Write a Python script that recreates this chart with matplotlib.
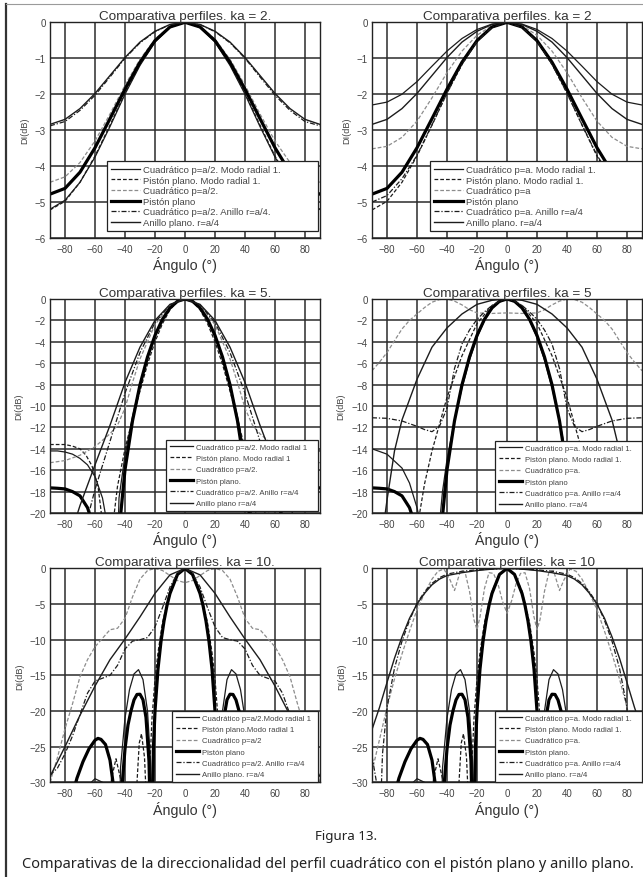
#!/usr/bin/env python3
"""
Directivity comparison: quadratic profile vs flat piston and flat ring.

Six panels (ka = 2, 5, 10; quadratic radius p=a/2 on the left, p=a on the
right). Each curve is stored as one half of the pattern (0..90 deg) and
mirrored, since all the patterns are symmetric about the axis.
"""

import numpy as np
import matplotlib
matplotlib.use("Agg")
import matplotlib.pyplot as plt
from matplotlib.lines import Line2D

# ---------------------------------------------------------------- ka = 2
KA2_ANG = [0, 10, 20, 30, 40, 50, 60, 70, 80, 90]

KA2_PISTON = [0, -0.13, -0.51, -1.11, -1.86, -2.68, -3.49, -4.17, -4.62, -4.78]
KA2_PISTON_MODO = [0, -0.13, -0.53, -1.17, -1.97, -2.86, -3.72, -4.45, -4.98, -5.22]
KA2_ANILLO = [0, -0.06, -0.25, -0.55, -0.98, -1.48, -1.98, -2.40, -2.70, -2.84]

# p = a/2
P1_CUAD_MODO = [0, -0.14, -0.55, -1.20, -2.00, -2.90, -3.75, -4.45, -4.95, -5.20]
P1_CUAD = [0, -0.12, -0.47, -1.03, -1.75, -2.55, -3.30, -3.90, -4.30, -4.45]
P1_CUAD_ANILLO = [0, -0.065, -0.26, -0.57, -1.00, -1.52, -2.03, -2.45, -2.76, -2.88]

# p = a
P2_CUAD_MODO = [0, -0.05, -0.20, -0.45, -0.80, -1.22, -1.65, -2.00, -2.22, -2.30]
P2_CUAD = [0, -0.09, -0.36, -0.80, -1.40, -2.10, -2.75, -3.20, -3.45, -3.52]
P2_CUAD_ANILLO = [0, -0.14, -0.53, -1.17, -1.97, -2.85, -3.70, -4.35, -4.82, -5.00]

# ---------------------------------------------------------------- ka = 5
KA5_PISTON_ANG = [0, 5, 10, 15, 20, 25, 30, 35, 40, 45, 48, 50, 52, 55, 60, 65, 70, 75, 80, 85, 90]
KA5_PISTON = [0, -0.21, -0.83, -1.89, -3.40, -5.42, -8.01, -11.39, -15.96, -23.2, -32.0,
              -50.0, -33.6, -26.0, -21.6, -19.5, -18.4, -18.0, -17.75, -17.69, -17.65]

P3_CUAD_MODO_ANG = [0, 5, 10, 15, 20, 25, 30, 35, 40, 44, 47, 50, 55, 60, 65, 70, 75, 80, 85, 90]
P3_CUAD_MODO = [0, -0.22, -0.85, -1.95, -3.5, -5.5, -8.0, -11.0, -14.6, -18.6, -35.0,
                -22.5, -18.6, -16.6, -15.5, -14.9, -14.5, -14.3, -14.2, -14.2]
P3_PISTON_MODO_ANG = [0, 5, 10, 15, 20, 25, 30, 35, 40, 45, 48, 51, 54, 58, 62, 66, 70, 75, 80, 85, 90]
P3_PISTON_MODO = [0, -0.25, -1.0, -2.3, -4.0, -6.1, -8.6, -11.2, -14.0, -17.5, -21.0,
                  -40.0, -22.0, -17.5, -15.6, -14.6, -14.0, -13.75, -13.6, -13.6, -13.6]
P3_CUAD_ANG = [0, 10, 20, 30, 35, 40, 45, 50, 55, 60, 70, 80, 90]
P3_CUAD = [0, -0.6, -2.4, -5.6, -7.8, -10.2, -11.8, -12.6, -13.2, -13.8, -14.6, -15.1, -15.3]
P3_CUAD_ANILLO_ANG = [0, 10, 20, 30, 40, 50, 60, 65, 70, 80, 90]
P3_CUAD_ANILLO = [0, -0.55, -2.2, -5.0, -8.8, -13.3, -17.8, -20.5, -23.0, -28.0, -30.0]
P3_ANILLO_ANG = [0, 10, 20, 30, 40, 50, 60, 70, 75, 80, 90]
P3_ANILLO = [0, -0.5, -2.0, -4.5, -7.8, -11.8, -15.5, -19.3, -21.5, -24.0, -28.0]

P4_CUAD_MODO_ANG = [0, 5, 10, 15, 20, 25, 30, 35, 40, 43, 46, 49, 52, 56, 60, 65, 70, 80, 90]
P4_CUAD_MODO = [0, -0.22, -0.88, -2.0, -3.6, -5.7, -8.3, -11.4, -15.0, -18.0, -22.5,
                -40.0, -27.0, -22.0, -19.5, -17.2, -15.8, -14.5, -14.0]
P4_PISTON_MODO_ANG = [0, 10, 20, 30, 40, 50, 55, 60, 63, 66, 70, 80, 90]
P4_PISTON_MODO = [0, -0.6, -2.3, -5.3, -9.2, -14.2, -17.3, -21.5, -35.0, -26.0, -23.0, -21.5, -21.2]
P4_CUAD_ANG = [0, 10, 20, 25, 30, 35, 40, 45, 50, 55, 60, 65, 70, 75, 80, 85, 90]
P4_CUAD = [-1.3, -1.35, -1.3, -1.0, -0.55, -0.2, 0, -0.05, -0.3, -0.8, -1.4, -2.0, -2.8,
           -3.9, -5.0, -5.9, -6.7]
P4_CUAD_ANILLO_ANG = [0, 5, 10, 15, 20, 25, 30, 35, 40, 45, 50, 55, 60, 70, 80, 90]
P4_CUAD_ANILLO = [0, -0.2, -0.6, -1.2, -1.9, -2.9, -4.2, -6.5, -10.2, -11.9, -12.4, -12.2,
                  -11.9, -11.4, -11.15, -11.1]
P4_ANILLO_ANG = [0, 10, 20, 30, 40, 50, 60, 70, 75, 80, 85, 90]
P4_ANILLO = [0, -0.12, -0.5, -1.4, -2.7, -4.5, -7.5, -11.3, -14.2, -18.8, -24.0, -30.0]

# --------------------------------------------------------------- ka = 10
KA10_PISTON_ANG = [0, 5, 10, 12, 14, 16, 18, 20, 21, 22, 22.5, 23, 24, 26, 28, 30, 32, 34, 36,
                   38, 40, 42, 44, 44.6, 46, 48, 50, 53, 56, 58, 60, 64, 68, 72, 76, 80, 90]
KA10_PISTON = [0, -0.84, -3.51, -5.19, -7.39, -10.24, -14.1, -20.0, -24.9, -34.3, -60.0,
               -36.1, -27.05, -20.9, -18.43, -17.65, -17.68, -18.45, -19.97, -21.96, -25.32,
               -30.6, -44.5, -60.0, -36.6, -30.0, -26.9, -24.7, -23.98, -23.84, -24.1, -25.3,
               -27.1, -29.4, -32.5, -36.0, -41.2]
KA10_MODO_ANG = [0, 5, 10, 12, 15, 18, 20, 21.5, 23, 25, 28, 31, 34, 37, 40, 43, 44.5, 46,
                 50, 55, 60, 65, 70, 80, 90]
KA10_MODO = [0, -0.9, -3.6, -5.3, -8.6, -13.5, -18.5, -40.0, -27.0, -20.0, -15.6, -14.2,
             -14.8, -17.0, -21.0, -28.0, -45.0, -36.0, -31.5, -30.0, -29.5, -30.5, -33.0,
             -38.0, -40.0]
KA10_PISTON_MODO_ANG = [0, 5, 10, 15, 18, 20, 22, 23.5, 25, 27, 29, 30.5, 32, 34, 38, 41, 43,
                        46, 49, 51, 55, 60, 70, 80, 90]
KA10_PISTON_MODO = [0, -0.8, -3.2, -7.6, -11.8, -15.5, -21.0, -28.0, -36.0, -26.5, -23.2,
                    -24.5, -30.0, -40.0, -40.0, -36.0, -29.5, -26.7, -29.5, -36.0, -33.0,
                    -34.0, -38.0, -40.0, -42.0]

P5_CUAD_ANG = [0, 5, 10, 15, 20, 25, 30, 35, 40, 45, 50, 55, 60, 65, 70, 75, 80, 85, 90]
P5_CUAD = [-2.0, -1.7, -1.0, -0.3, 0, -0.3, -1.5, -4.0, -7.0, -8.4, -8.6, -9.8, -11.0,
           -12.8, -15.2, -19.0, -22.5, -26.5, -30.0]
P5_CUAD_ANILLO = [0, -0.7, -2.6, -5.5, -8.2, -9.7, -10.0, -10.2, -11.3, -13.6, -15.0, -15.4,
                  -15.8, -17.5, -20.5, -23.5, -26.0, -28.0, -29.0]
P5_ANILLO_ANG = [0, 10, 20, 30, 40, 50, 60, 70, 80, 90]
P5_ANILLO = [0, -0.9, -3.5, -6.8, -9.9, -12.8, -16.5, -20.6, -25.0, -29.2]

P6_CUAD_ANG = [0, 3, 6, 9, 12, 15, 18, 20, 22, 25, 28, 31, 35, 38, 42, 46, 50, 55, 60, 65,
               70, 75, 80, 85, 90]
P6_CUAD = [-6.3, -4.6, -2.2, -0.7, -0.6, -2.8, -6.8, -8.6, -7.2, -3.2, -0.5, -0.3, -3.1,
           -1.6, -0.1, -0.4, -1.5, -3.5, -5.8, -8.8, -12.0, -15.5, -19.5, -24.0, -28.5]
P6_CUAD_ANILLO_ANG = [0, 10, 20, 30, 40, 45, 50, 55, 60, 65, 70, 75, 80, 83, 85, 87, 90]
P6_CUAD_ANILLO = [0, -0.1, -0.2, -0.4, -0.8, -1.3, -2.1, -3.3, -4.9, -7.3, -10.2, -14.0,
                  -19.5, -26.0, -38.0, -30.0, -26.3]
P6_ANILLO_ANG = [0, 10, 20, 30, 40, 45, 50, 55, 60, 65, 70, 75, 80, 85, 90]
P6_ANILLO = [0, -0.1, -0.3, -0.6, -1.0, -1.5, -2.3, -3.5, -5.0, -7.0, -9.6, -12.6, -16.0,
             -19.5, -22.6]

# ---------------------------------------------------------------- labels
TITLES = ["Comparativa perfiles. ka = 2.", "Comparativa perfiles. ka = 2",
          "Comparativa perfiles. ka = 5.", "Comparativa perfiles. ka = 5",
          "Comparativa perfiles. ka = 10.", "Comparativa perfiles. ka = 10"]

LEGENDS = [
    ["Cuadrático p=a/2. Modo radial 1.", "Pistón plano. Modo radial 1.", "Cuadrático p=a/2.",
     "Pistón plano", "Cuadrático p=a/2. Anillo r=a/4.", "Anillo plano. r=a/4"],
    ["Cuadrático p=a. Modo radial 1.", "Pistón plano. Modo radial 1.", "Cuadrático p=a",
     "Pistón plano", "Cuadrático p=a. Anillo r=a/4", "Anillo plano. r=a/4"],
    ["Cuadrático p=a/2. Modo radial 1", "Pistón plano. Modo radial 1", "Cuadrático p=a/2.",
     "Pistón plano.", "Cuadrático p=a/2. Anillo r=a/4", "Anillo plano r=a/4"],
    ["Cuadrático p=a. Modo radial 1.", "Pistón plano. Modo radial 1.", "Cuadrático p=a.",
     "Pistón plano", "Cuadrático p=a. Anillo r=a/4", "Anillo plano. r=a/4"],
    ["Cuadrático p=a/2.Modo radial 1", "Pistón plano.Modo radial 1", "Cuadrático p=a/2",
     "Pistón plano", "Cuadrático p=a/2. Anillo r=a/4", "Anillo plano. r=a/4"],
    ["Cuadrático p=a. Modo radial 1.", "Pistón plano. Modo radial 1.", "Cuadrático p=a.",
     "Pistón plano.", "Cuadrático p=a. Anillo r=a/4", "Anillo plano. r=a/4"],
]

Y_LIMITS = [-6, -6, -20, -20, -30, -30]
Y_STEPS = [1, 1, 2, 2, 5, 5]

CAPTION_1 = "Figura 13."
CAPTION_2 = ("Comparativas de la direccionalidad del perfil cuadrático "
             "con el pistón plano y anillo plano.")

# line styles in legend order
INK = "#1c1c1c"
STYLES = [
    dict(color=INK, lw=0.9, ls="-"),
    dict(color=INK, lw=0.9, ls=(0, (3.0, 1.6))),
    dict(color="#8c8c8c", lw=0.9, ls=(0, (3.0, 1.6))),
    dict(color="#000000", lw=2.3, ls="-"),
    dict(color=INK, lw=0.9, ls=(0, (4.0, 1.5, 1.0, 1.5))),
    dict(color=INK, lw=1.0, ls="-"),
]

# legend boxes in axes fractions (x0, y0, width, height)
LEGEND_BOXES = [
    (0.211, 0.032, 0.782, 0.348), (0.215, 0.032, 0.785, 0.348),
    (0.430, 0.010, 0.563, 0.340), (0.456, 0.005, 0.544, 0.330),
    (0.452, 0.002, 0.541, 0.345), (0.456, 0.002, 0.544, 0.350),
]


def mirror(ang, val):
    """Build the full -90..90 pattern from its 0..90 half."""
    a = np.asarray(ang, dtype=float)
    v = np.asarray(val, dtype=float)
    return np.concatenate([-a[:0:-1], a]), np.concatenate([v[:0:-1], v])


def panel_curves():
    """Curves of each panel as (angles, dB) pairs, in legend order."""
    return [
        [(KA2_ANG, P1_CUAD_MODO), (KA2_ANG, KA2_PISTON_MODO), (KA2_ANG, P1_CUAD),
         (KA2_ANG, KA2_PISTON), (KA2_ANG, P1_CUAD_ANILLO), (KA2_ANG, KA2_ANILLO)],
        [(KA2_ANG, P2_CUAD_MODO), (KA2_ANG, KA2_PISTON_MODO), (KA2_ANG, P2_CUAD),
         (KA2_ANG, KA2_PISTON), (KA2_ANG, P2_CUAD_ANILLO), (KA2_ANG, KA2_ANILLO)],
        [(P3_CUAD_MODO_ANG, P3_CUAD_MODO), (P3_PISTON_MODO_ANG, P3_PISTON_MODO),
         (P3_CUAD_ANG, P3_CUAD), (KA5_PISTON_ANG, KA5_PISTON),
         (P3_CUAD_ANILLO_ANG, P3_CUAD_ANILLO), (P3_ANILLO_ANG, P3_ANILLO)],
        [(P4_CUAD_MODO_ANG, P4_CUAD_MODO), (P4_PISTON_MODO_ANG, P4_PISTON_MODO),
         (P4_CUAD_ANG, P4_CUAD), (KA5_PISTON_ANG, KA5_PISTON),
         (P4_CUAD_ANILLO_ANG, P4_CUAD_ANILLO), (P4_ANILLO_ANG, P4_ANILLO)],
        [(KA10_MODO_ANG, KA10_MODO), (KA10_PISTON_MODO_ANG, KA10_PISTON_MODO),
         (P5_CUAD_ANG, P5_CUAD), (KA10_PISTON_ANG, KA10_PISTON),
         (P5_CUAD_ANG, P5_CUAD_ANILLO), (P5_ANILLO_ANG, P5_ANILLO)],
        [(KA10_MODO_ANG, KA10_MODO), (KA10_PISTON_MODO_ANG, KA10_PISTON_MODO),
         (P6_CUAD_ANG, P6_CUAD), (KA10_PISTON_ANG, KA10_PISTON),
         (P6_CUAD_ANILLO_ANG, P6_CUAD_ANILLO), (P6_ANILLO_ANG, P6_ANILLO)],
    ]


def draw_panel(ax, idx, curves):
    ymin = Y_LIMITS[idx]
    for (ang, val), style, label in zip(curves, STYLES, LEGENDS[idx]):
        x, y = mirror(ang, val)
        ax.plot(x, y, label=label, solid_joinstyle="round", **style)

    ax.set_xlim(-90, 90)
    ax.set_ylim(ymin, 0)
    ax.set_xticks(range(-80, 81, 20))
    ax.set_yticks(np.arange(0, ymin - 0.1, -Y_STEPS[idx]))
    ax.grid(True, color="#2b2b2b", lw=1.1)
    ax.set_axisbelow(True)
    for sp in ax.spines.values():
        sp.set_color("#222222")
        sp.set_linewidth(1.0)
    ax.tick_params(length=0, labelsize=7.0, labelcolor="#444444", pad=4)
    ax.tick_params(axis="y", pad=3)

    ax.set_title(TITLES[idx], fontsize=9.7, color="#333333", pad=2.0)
    ax.set_xlabel("Ángulo (°)", fontsize=10.3, color="#333333", labelpad=2)
    ax.set_ylabel("DI(dB)", fontsize=6.6, color="#444444", labelpad=4)

    # legend box sits in the lower right corner of every panel
    if idx < 2:
        fsize, spacing = 6.8, 0.16
    else:
        fsize, spacing = 5.6, 0.50
    leg = ax.legend(loc="lower left", bbox_to_anchor=LEGEND_BOXES[idx], mode="expand",
                    fontsize=fsize, labelspacing=spacing, handlelength=3.0,
                    handletextpad=0.4, borderpad=0.45, borderaxespad=0,
                    fancybox=False, framealpha=1, edgecolor="#222222")
    leg.get_frame().set_linewidth(0.9)
    for t in leg.get_texts():
        t.set_color("#444444")


def main():
    plt.rcParams["font.family"] = ["Liberation Sans", "DejaVu Sans"]
    W, H = 643, 878
    fig = plt.figure(figsize=(W / 100, H / 100), dpi=100)

    lefts = [50, 372]
    rows = [(23.3, 239.0), (300.0, 514.0), (569.4, 783.3)]
    curves = panel_curves()
    for r, (top, bot) in enumerate(rows):
        for c, left in enumerate(lefts):
            idx = 2 * r + c
            ax = fig.add_axes([left / W, 1 - bot / H, 270 / W, (bot - top) / H])
            draw_panel(ax, idx, curves[idx])

    # page frame: dark left rule and a faint top rule
    fig.add_artist(Line2D([5.5 / W, 5.5 / W], [0, 1 - 5 / H], transform=fig.transFigure,
                          color="#333333", lw=1.6))
    fig.add_artist(Line2D([5.5 / W, 1], [1 - 5 / H, 1 - 5 / H], transform=fig.transFigure,
                          color="#9a9a9a", lw=0.8))

    fig.text(346 / W, 1 - 837 / H, CAPTION_1, ha="center", va="center",
             fontsize=9.6, color="#222222", family=["Noto Sans", "DejaVu Sans"])
    fig.text(328 / W, 1 - 865 / H, CAPTION_2, ha="center", va="center",
             fontsize=10.5, color="#222222", family=["Noto Sans", "DejaVu Sans"])

    fig.savefig("out.png", dpi=100, facecolor="white")


if __name__ == "__main__":
    main()
